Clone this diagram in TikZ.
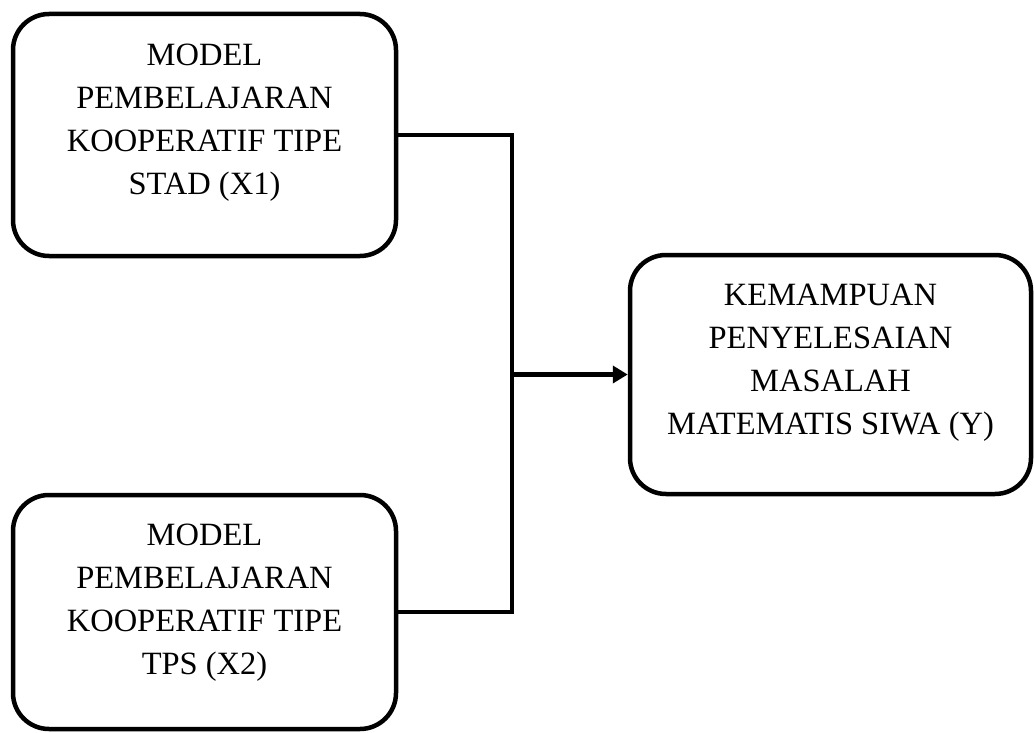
\documentclass[tikz,border=0pt]{standalone}
\usepackage{fontspec}
\setmainfont{Liberation Serif}
\usetikzlibrary{arrows.meta}
\begin{document}
\begin{tikzpicture}[x=1pt,y=-1pt,
  box/.style={draw=black, line width=4.5pt, rounded corners=36pt, fill=white},
  txt/.style={align=center, font=\fontsize{32.5}{43}\selectfont, inner sep=0pt},
  conn/.style={draw=black, line width=4.5pt, line join=miter}]
\useasboundingbox (0,0) rectangle (1034,733);
\node[box, minimum width=383pt, minimum height=242pt] (b1) at (204.5,135) {};
\node[box, minimum width=383pt, minimum height=234pt] (b2) at (204.5,612) {};
\node[box, minimum width=401pt, minimum height=239pt] (b3) at (830.5,374.5) {};
\node[txt] (t1) at (204.5,123) {MODEL\\PEMBELAJARAN\\KOOPERATIF TIPE\\STAD (X1)};
\node[txt] (t2) at (204.5,603) {MODEL\\PEMBELAJARAN\\KOOPERATIF TIPE\\TPS (X2)};
\node[txt] (t3) at (830.5,363) {KEMAMPUAN\\PENYELESAIAN\\MASALAH\\MATEMATIS SIWA (Y)};
\coordinate (j) at (512,374.5);
\draw[conn] (b1.east) -| (j) |- (b2.east);
\draw[conn, -{Triangle[length=15pt,width=17pt]}] (j) -- (b3.west);
\end{tikzpicture}
\end{document}
